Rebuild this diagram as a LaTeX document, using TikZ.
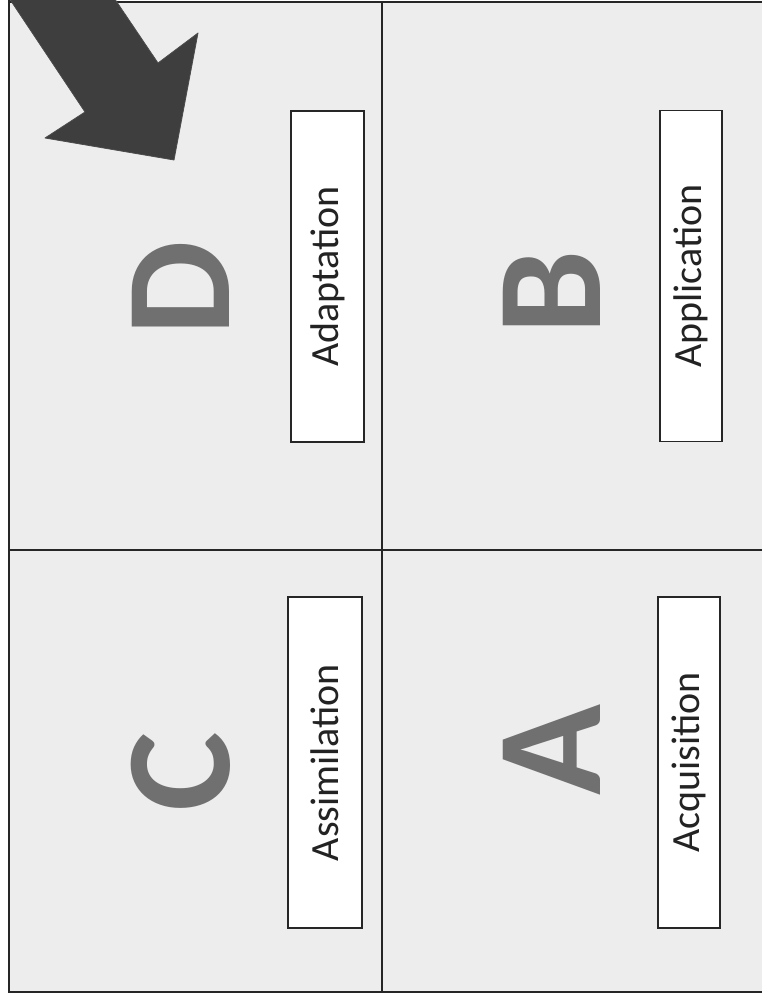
\documentclass[tikz,border=0pt]{standalone}
\usepackage{fontspec}
\setmainfont{Carlito}
\definecolor{bgpanel}{RGB}{237,237,237}
\definecolor{lettergray}{RGB}{112,112,112}
\definecolor{arrowgray}{RGB}{62,62,62}
\definecolor{labelink}{RGB}{35,35,35}
\begin{document}
\begin{tikzpicture}[x=1pt,y=-1pt,
  gridline/.style={draw=black!85,line width=1.3pt},
  bigletter/.style={rotate=90,text=lettergray,font=\fontsize{150}{150}\selectfont\bfseries,inner sep=0pt},
  labelbox/.style={rotate=90,draw=black!85,line width=1.4pt,fill=white,minimum width=331pt,inner sep=0pt,text=labelink,font=\fontsize{40}{40}\selectfont},
  bigarrow/.style={fill=arrowgray,draw=black!70,line width=0.8pt,line join=round}]
\useasboundingbox (0,0) rectangle (762,997);
% panel background
\fill[bgpanel] (9,2) rectangle (762,992);
% grid
\draw[gridline] (9,2) -- (762,2);
\draw[gridline] (9,0) -- (9,992) -- (762,992);
\draw[gridline] (382,2) -- (382,992);
\draw[gridline] (9,550) -- (762,550);
% letters
\node[bigletter] (letD) at (181,288) {D};
\node[bigletter] (letC) at (181,772) {C};
\node[bigletter] (letB) at (552,292) {B};
\node[bigletter] (letA) at (552,750) {A};
% labels
\node[labelbox,minimum height=73pt] (adapt) at (327.5,276.5) {Adaptation};
\node[labelbox,minimum height=74pt] (assim) at (325,762.5) {Assimilation};
\node[labelbox,minimum height=62pt] (appl) at (691,276) {Application};
\node[labelbox,minimum height=62pt] (acqu) at (689,762.5) {Acquisition};
% arrow
\path[bigarrow] (-3,-20) -- (85,112) -- (45,138) -- (174,160) -- (198,33) -- (158,63) -- (102,-20) -- cycle;
\end{tikzpicture}
\end{document}
